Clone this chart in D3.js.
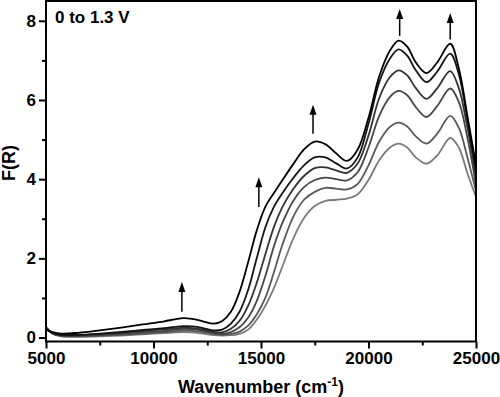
<!DOCTYPE html>
<html>
<head>
<meta charset="utf-8">
<script src="https://cdn.jsdelivr.net/npm/d3@7"></script>
<style>
    body { margin: 0; background: #fff; }
    svg text { font-family: "Liberation Sans", Arial, sans-serif; font-weight: bold; fill: #000; }
</style>
</head>
<body>
<svg id="chart" width="500" height="397"></svg>
<script>
    // wavenumber grid (cm-1) shared by all spectra
    var wavenumbers = [5000, 5300, 5700, 6500, 7500, 8500, 9500, 10500, 11000, 11400,
        11800, 12300, 12800, 13200, 13600, 14000, 14400, 14800, 15200, 15600,
        16000, 16500, 17000, 17500, 18000, 18500, 19000, 19500, 20000, 20500,
        21000, 21400, 21800, 22200, 22700, 23200, 23800, 24200, 24600, 25000];

    // F(R) spectra, lowest potential first
    var spectrum1 = [0.28, 0.10, 0.03, 0.02, 0.03, 0.05, 0.08, 0.11, 0.13, 0.14,
        0.13, 0.10, 0.06, 0.05, 0.06, 0.09, 0.20, 0.45, 0.80, 1.25,
        1.80, 2.50, 3.02, 3.32, 3.45, 3.48, 3.51, 3.62, 3.98, 4.48,
        4.80, 4.90, 4.80, 4.55, 4.39, 4.60, 5.04, 4.80, 4.15, 3.55];
    var spectrum2 = [0.27, 0.10, 0.04, 0.03, 0.05, 0.07, 0.10, 0.14, 0.16, 0.18,
        0.17, 0.14, 0.09, 0.07, 0.09, 0.15, 0.30, 0.58, 1.00, 1.65,
        2.35, 3.05, 3.48, 3.68, 3.78, 3.76, 3.74, 3.88, 4.35, 4.95,
        5.32, 5.43, 5.33, 5.08, 4.90, 5.15, 5.60, 5.30, 4.55, 3.70];
    var spectrum3 = [0.26, 0.10, 0.05, 0.04, 0.06, 0.09, 0.13, 0.17, 0.20, 0.22,
        0.21, 0.17, 0.11, 0.09, 0.14, 0.26, 0.50, 0.92, 1.55, 2.30,
        2.90, 3.45, 3.80, 3.98, 4.04, 4.00, 3.97, 4.18, 4.80, 5.60,
        6.08, 6.23, 6.12, 5.82, 5.57, 5.85, 6.29, 5.95, 5.05, 3.85];
    var spectrum4 = [0.24, 0.11, 0.06, 0.06, 0.08, 0.12, 0.16, 0.21, 0.23, 0.25,
        0.24, 0.20, 0.14, 0.13, 0.22, 0.42, 0.80, 1.38, 2.10, 2.79,
        3.30, 3.75, 4.08, 4.28, 4.30, 4.22, 4.16, 4.40, 5.10, 6.05,
        6.58, 6.75, 6.62, 6.30, 6.03, 6.30, 6.73, 6.30, 5.30, 4.05];
    var spectrum5 = [0.22, 0.12, 0.07, 0.07, 0.10, 0.14, 0.19, 0.24, 0.27, 0.29,
        0.28, 0.24, 0.18, 0.20, 0.35, 0.65, 1.20, 2.00, 2.78, 3.30,
        3.65, 4.03, 4.35, 4.55, 4.55, 4.40, 4.27, 4.55, 5.40, 6.45,
        7.05, 7.28, 7.12, 6.75, 6.45, 6.72, 7.17, 6.65, 5.50, 4.20];
    var spectrum6 = [0.20, 0.14, 0.10, 0.12, 0.18, 0.25, 0.33, 0.41, 0.46, 0.49,
        0.47, 0.41, 0.35, 0.42, 0.65, 1.15, 1.90, 2.70, 3.30, 3.65,
        3.98, 4.38, 4.75, 4.95, 4.88, 4.65, 4.46, 4.75, 5.55, 6.60,
        7.25, 7.50, 7.35, 6.95, 6.68, 6.95, 7.42, 6.80, 5.60, 4.35];

    var spectra = [spectrum1, spectrum2, spectrum3, spectrum4, spectrum5, spectrum6];
    var lineColors = ["#7a7a7a", "#585858", "#464646", "#333333", "#141414", "#000000"];

    // arrows: wavenumber, F(R) tail, F(R) head
    var arrowWn = [11320, 14900, 17420, 21450, 23800];
    var arrowFrom = [0.65, 3.30, 5.15, 7.62, 7.53];
    var arrowTo = [1.40, 4.05, 5.88, 8.30, 8.20];

    var xTicks = [5000, 10000, 15000, 20000, 25000];
    var yTicks = [0, 2, 4, 6, 8];
    var panelLabel = "0 to 1.3 V";

    var svg = d3.select("#chart");
    var box = { left: 46, right: 476, top: 1, bottom: 341.5 };

    var x = d3.scaleLinear().domain([5000, 25000]).range([box.left, box.right]);
    var y = d3.scaleLinear().domain([-0.1, 8.5]).range([box.bottom, box.top]);

    // spectra
    var line = d3.line()
        .x(function(d, i){ return x(wavenumbers[i]); })
        .y(function(d){ return y(d); })
        .curve(d3.curveCatmullRom.alpha(0.5));

    svg.append("clipPath").attr("id", "plot-clip")
        .append("rect")
        .attr("x", box.left).attr("y", box.top)
        .attr("width", box.right - box.left).attr("height", box.bottom - box.top);

    svg.append("g").attr("clip-path", "url(#plot-clip)")
        .selectAll(".spectrum")
        .data(spectra)
        .enter()
        .append("path")
        .classed("spectrum", true)
        .attr("d", line)
        .attr("fill", "none")
        .attr("stroke", function(d, i){ return lineColors[i]; })
        .attr("stroke-width", 1.8);

    // arrows
    svg.selectAll(".arrow")
        .data(arrowWn)
        .enter()
        .append("line")
        .classed("arrow", true)
        .attr("x1", function(d){ return x(d); })
        .attr("x2", function(d){ return x(d); })
        .attr("y1", function(d, i){ return y(arrowFrom[i]); })
        .attr("y2", function(d, i){ return y(arrowTo[i]) + 7; })
        .attr("stroke", "#000")
        .attr("stroke-width", 1.5);

    svg.selectAll(".arrow-head")
        .data(arrowWn)
        .enter()
        .append("path")
        .classed("arrow-head", true)
        .attr("d", function(d, i){
            var cx = x(d), ty = y(arrowTo[i]);
            return "M" + cx + "," + ty + " L" + (cx - 3.5) + "," + (ty + 10) + " L" + (cx + 3.5) + "," + (ty + 10) + " Z";
        })
        .attr("fill", "#000");

    // axes
    var xAxis = d3.axisBottom(x).tickValues(xTicks).tickSize(7).tickPadding(3).tickFormat(d3.format("d"));
    var xMinor = d3.axisBottom(x).tickValues([7500, 12500, 17500, 22500]).tickSize(4).tickFormat("");
    var yAxis = d3.axisLeft(y).tickValues(yTicks).tickSize(7).tickPadding(3);
    var yMinor = d3.axisLeft(y).tickValues([1, 3, 5, 7]).tickSize(4).tickFormat("");

    function styleAxis(g){
        g.select(".domain").remove();
        g.selectAll("line").attr("stroke", "#000").attr("stroke-width", 2);
        g.selectAll("text").style("font-size", "17px");
    }

    svg.append("g").attr("transform", "translate(0," + box.bottom + ")").call(xAxis).call(styleAxis);
    svg.append("g").attr("transform", "translate(0," + box.bottom + ")").call(xMinor).call(styleAxis);
    svg.append("g").attr("transform", "translate(" + box.left + ",0)").call(yAxis).call(styleAxis);
    svg.append("g").attr("transform", "translate(" + box.left + ",0)").call(yMinor).call(styleAxis);

    // frame
    svg.append("rect")
        .attr("x", box.left).attr("y", box.top)
        .attr("width", box.right - box.left).attr("height", box.bottom - box.top)
        .attr("fill", "none")
        .attr("stroke", "#000")
        .attr("stroke-width", 2);

    // labels
    svg.append("text")
        .attr("x", 55).attr("y", 23)
        .style("font-size", "17px")
        .text(panelLabel);

    var xLabel = svg.append("text")
        .attr("x", 261).attr("y", 393)
        .attr("text-anchor", "middle")
        .style("font-size", "18px");
    xLabel.append("tspan").text("Wavenumber (cm");
    xLabel.append("tspan").attr("dy", -7).style("font-size", "12px").text("-1");
    xLabel.append("tspan").attr("dy", 7).text(")");

    svg.append("text")
        .attr("transform", "translate(15,163) rotate(-90)")
        .attr("text-anchor", "middle")
        .style("font-size", "18px")
        .text("F(R)");
</script>
</body>
</html>
